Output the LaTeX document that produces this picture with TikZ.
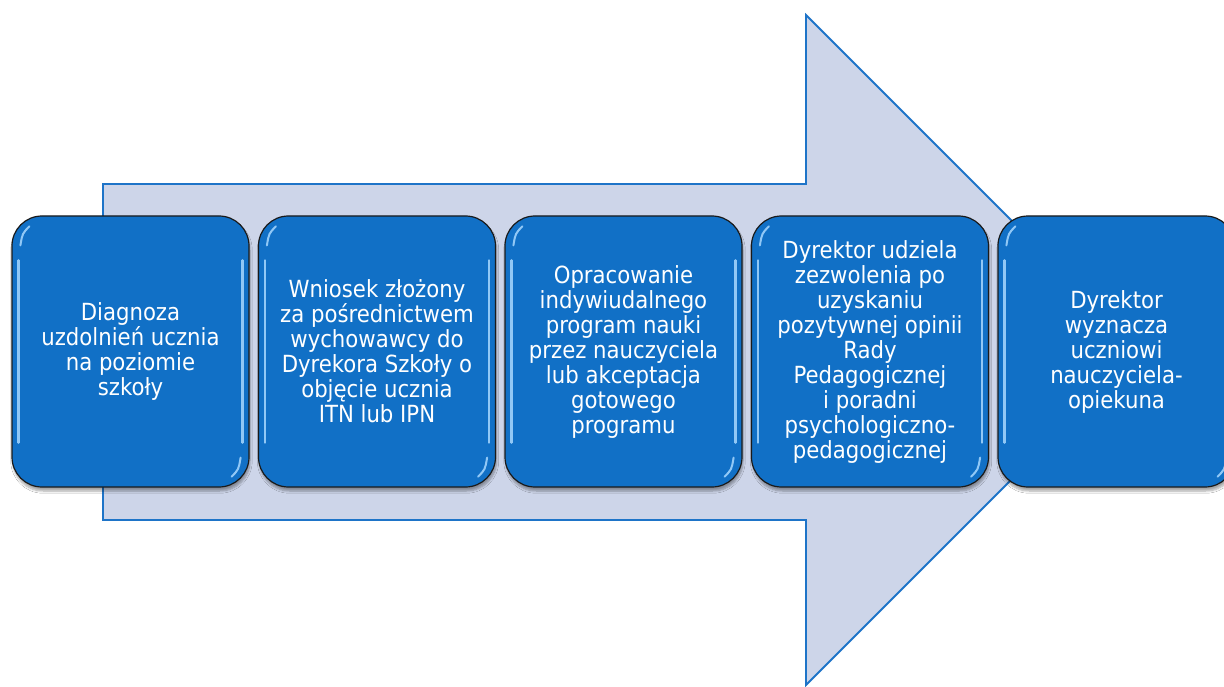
\documentclass[tikz,border=0pt]{standalone}
\usepackage{fontspec}
\setmainfont{DejaVu Sans Condensed}
\usetikzlibrary{shadows.blur}
\definecolor{arrowfill}{HTML}{CDD5E9}
\definecolor{arrowline}{HTML}{1E74C8}
\definecolor{boxfill}{HTML}{1170C6}
\definecolor{boxedge}{HTML}{1A1A1A}
\definecolor{hilite}{HTML}{A8D8FF}
\tikzset{
  stepbox/.style={rectangle, rounded corners=30pt, minimum width=237pt, minimum height=271pt,
    fill=boxfill, draw=boxedge, line width=1.2pt, text=white, align=center, inner sep=0pt,
    font=\fontsize{23.6}{25}\selectfont,
    blur shadow={shadow blur steps=6, shadow xshift=1pt, shadow yshift=-4pt, shadow opacity=35}},
  hl/.style={draw=hilite, line width=2.5pt, line cap=round, opacity=0.85},
  bigarrow/.style={fill=arrowfill, draw=arrowline, line width=1.8pt, line join=miter}
}
\begin{document}
\begin{tikzpicture}[x=1pt,y=-1pt]
\useasboundingbox (0,0) rectangle (1224,687);
\fill[white] (0,0) rectangle (1224,687);
% big arrow
\draw[bigarrow] (103,184) -- (806,184) -- (806,15) -- (1141,350) -- (806,685) -- (806,520) -- (103,520) -- cycle;
% boxes
\node[stepbox] (b1) at (130.5,351.5) {Diagnoza\\uzdolnień ucznia\\na poziomie\\szkoły};
\node[stepbox] (b2) at (377,351.5) {Wniosek złożony\\za pośrednictwem\\wychowawcy do\\Dyrekora Szkoły o\\objęcie ucznia\\ITN lub IPN};
\node[stepbox] (b3) at (623.5,351.5) {Opracowanie\\indywiudalnego\\program nauki\\przez nauczyciela\\lub akceptacja\\gotowego\\programu};
\node[stepbox] (b4) at (870,351.5) {Dyrektor udziela\\zezwolenia po\\uzyskaniu\\pozytywnej opinii\\Rady\\Pedagogicznej\\i poradni\\psychologiczno-\\pedagogicznej};
\node[stepbox] (b5) at (1116.5,351.5) {Dyrektor\\wyznacza\\uczniowi\\nauczyciela-\\opiekuna};
% glossy highlights
\foreach \b in {b1,b2,b3,b4,b5}{
  \draw[hl] ([xshift=7pt,yshift=-45pt]\b.north west) -- ([xshift=7pt,yshift=45pt]\b.south west);
  \draw[hl] ([xshift=-7pt,yshift=-45pt]\b.north east) -- ([xshift=-7pt,yshift=45pt]\b.south east);
  \draw[hl, line width=2pt] ([xshift=9pt,yshift=-30pt]\b.north west) .. controls ([xshift=11pt,yshift=-18pt]\b.north west) .. ([xshift=18pt,yshift=-11pt]\b.north west);
  \draw[hl, line width=2pt] ([xshift=-9pt,yshift=30pt]\b.south east) .. controls ([xshift=-11pt,yshift=18pt]\b.south east) .. ([xshift=-18pt,yshift=11pt]\b.south east);
}
\end{tikzpicture}
\end{document}
